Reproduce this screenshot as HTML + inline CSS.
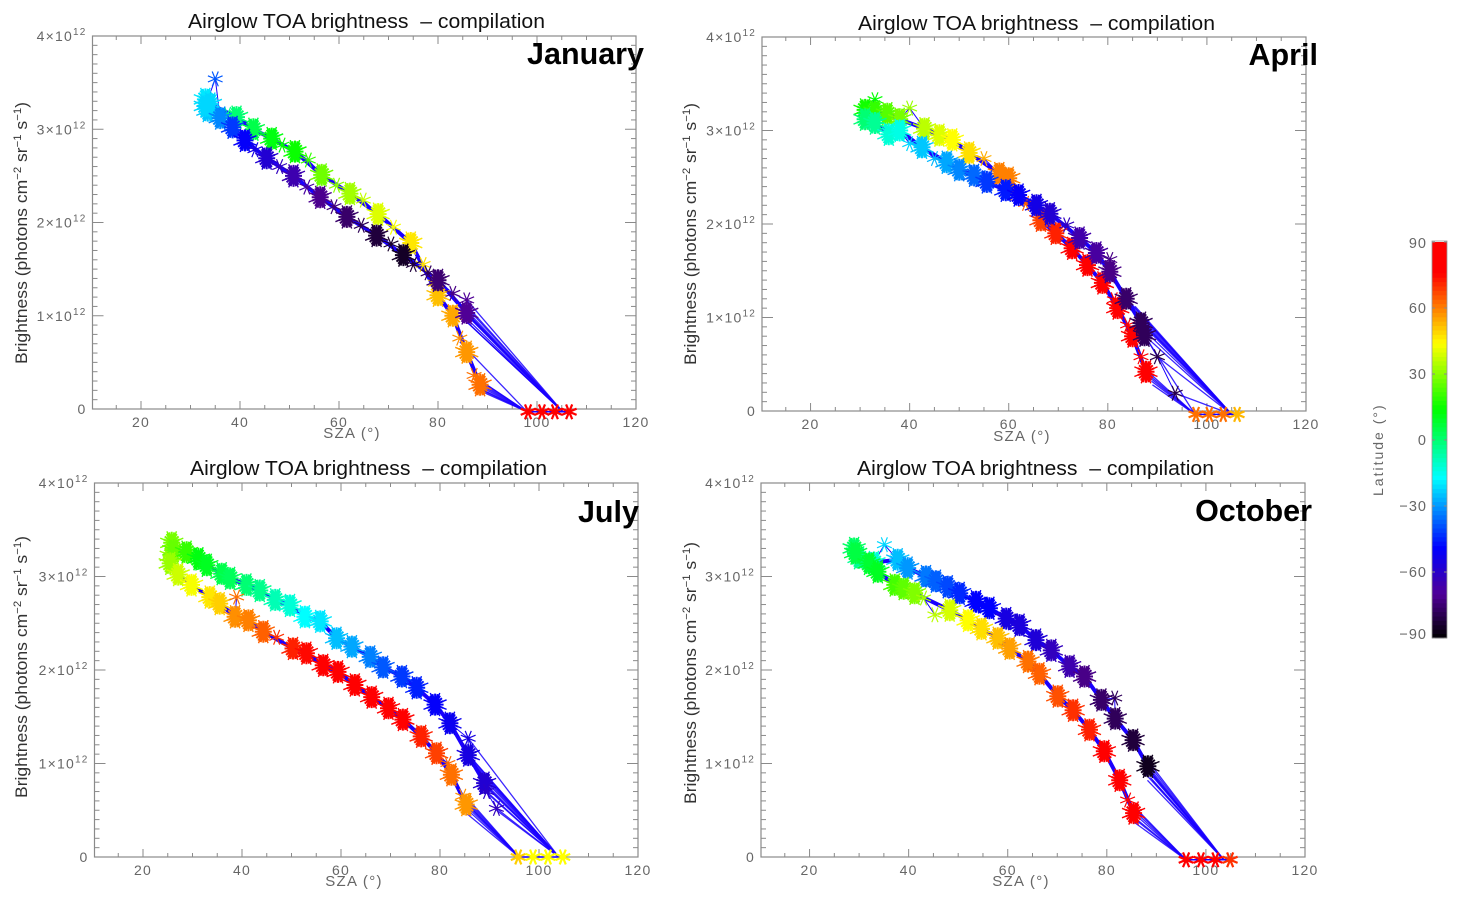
<!DOCTYPE html>
<html lang="en">
<head>
<meta charset="utf-8">
<title>Airglow TOA brightness compilation</title>
<style>
html,body{margin:0;padding:0;background:#fff;}
svg{display:block;font-family:"Liberation Sans",sans-serif;}
.title{font-size:20px;fill:#111;}
.month{font-size:30.5px;font-weight:bold;fill:#000;}
.ytitle{font-size:17px;fill:#333;}
.xtitle{font-size:15px;fill:#666;letter-spacing:1.3px;}
.tick{font-size:14px;fill:#666;letter-spacing:1.2px;}
.cbtick{font-size:14.5px;fill:#666;letter-spacing:1px;}
.cbtitle{font-size:14px;fill:#666;letter-spacing:2px;}
</style>
</head>
<body>
<svg id="chart" width="1461" height="903" viewBox="0 0 1461 903" xmlns="http://www.w3.org/2000/svg">
  <rect x="0" y="0" width="1461" height="903" fill="#fff"/>
  <g id="layer-january"></g>
  <g id="layer-april"></g>
  <g id="layer-july"></g>
  <g id="layer-october"></g>
  <g id="layer-colorbar"></g>

  <text class="title" x="188" y="28" textLength="357" lengthAdjust="spacingAndGlyphs">Airglow TOA brightness&#160;&#160;– compilation</text>
  <text class="title" x="858" y="30" textLength="357" lengthAdjust="spacingAndGlyphs">Airglow TOA brightness&#160;&#160;– compilation</text>
  <text class="title" x="190" y="475" textLength="357" lengthAdjust="spacingAndGlyphs">Airglow TOA brightness&#160;&#160;– compilation</text>
  <text class="title" x="857" y="475" textLength="357" lengthAdjust="spacingAndGlyphs">Airglow TOA brightness&#160;&#160;– compilation</text>

  <text class="month" x="644" y="64" text-anchor="end">January</text>
  <text class="month" x="1318" y="65" text-anchor="end">April</text>
  <text class="month" x="639" y="522" text-anchor="end">July</text>
  <text class="month" x="1312" y="521" text-anchor="end">October</text>

  <text class="ytitle" transform="translate(27,364) rotate(-90)" textLength="262" lengthAdjust="spacingAndGlyphs">Brightness (photons cm<tspan font-size="11" dy="-6">−2</tspan><tspan dy="6"> sr</tspan><tspan font-size="11" dy="-6">−1</tspan><tspan dy="6"> s</tspan><tspan font-size="11" dy="-6">−1</tspan><tspan dy="6">)</tspan></text>
  <text class="ytitle" transform="translate(696,365) rotate(-90)" textLength="262" lengthAdjust="spacingAndGlyphs">Brightness (photons cm<tspan font-size="11" dy="-6">−2</tspan><tspan dy="6"> sr</tspan><tspan font-size="11" dy="-6">−1</tspan><tspan dy="6"> s</tspan><tspan font-size="11" dy="-6">−1</tspan><tspan dy="6">)</tspan></text>
  <text class="ytitle" transform="translate(27,798) rotate(-90)" textLength="262" lengthAdjust="spacingAndGlyphs">Brightness (photons cm<tspan font-size="11" dy="-6">−2</tspan><tspan dy="6"> sr</tspan><tspan font-size="11" dy="-6">−1</tspan><tspan dy="6"> s</tspan><tspan font-size="11" dy="-6">−1</tspan><tspan dy="6">)</tspan></text>
  <text class="ytitle" transform="translate(696,804) rotate(-90)" textLength="262" lengthAdjust="spacingAndGlyphs">Brightness (photons cm<tspan font-size="11" dy="-6">−2</tspan><tspan dy="6"> sr</tspan><tspan font-size="11" dy="-6">−1</tspan><tspan dy="6"> s</tspan><tspan font-size="11" dy="-6">−1</tspan><tspan dy="6">)</tspan></text>

  <text class="xtitle" x="352" y="438" text-anchor="middle">SZA (°)</text>
  <text class="xtitle" x="1022" y="441" text-anchor="middle">SZA (°)</text>
  <text class="xtitle" x="354" y="886" text-anchor="middle">SZA (°)</text>
  <text class="xtitle" x="1021" y="886" text-anchor="middle">SZA (°)</text>

  <text class="cbtitle" transform="translate(1383,496) rotate(-90)">Latitude (°)</text>
</svg>

<script>
// ---- Axis content ----
const xMajorTicks = [20, 40, 60, 80, 100, 120];
const xMinorTicks = [15, 25, 30, 35, 45, 50, 55, 65, 70, 75, 85, 90, 95, 105, 110, 115];
const yMajorTicks = [0, 1, 2, 3, 4];
const yMinorTicks = [0.1,0.2,0.3,0.4,0.5,0.6,0.7,0.8,0.9,1.1,1.2,1.3,1.4,1.5,1.6,1.7,1.8,1.9,2.1,2.2,2.3,2.4,2.5,2.6,2.7,2.8,2.9,3.1,3.2,3.3,3.4,3.5,3.6,3.7,3.8,3.9];
const xTickLabels = ['20', '40', '60', '80', '100', '120'];
const yTickLabels = ['0', '1×10', '2×10', '3×10', '4×10'];
const yTickExponents = ['', '12', '12', '12', '12'];
const cbTicks = [-90, -60, -30, 0, 30, 60, 90];
const cbTickLabels = ['−90', '−60', '−30', '0', '30', '60', '90'];

// ---- Latitude colour table ----
const latStops = [-90, -70, -49, -17, 14, 44, 76, 90];
const latReds = [0, 80, 0, 0, 0, 255, 255, 255];
const latGreens = [0, 0, 0, 255, 255, 255, 0, 0];
const latBlues = [0, 150, 255, 255, 0, 0, 0, 0];

// ---- January ----
const janUpperSza = [33,33.5,34,36,37.5,39.3,42.7,46.4,48.5,51.1,53.8,56.5,59.5,62.2,64.9,67.9,71,74.5,77,79.5,80,83,84.4,85.8,87.3,88.5];
const janUpperBright = [3.32,3.2,3.27,3.15,3.16,3.13,3,2.9,2.83,2.76,2.67,2.51,2.4,2.31,2.24,2.09,1.95,1.78,1.55,1.35,1.22,1,0.76,0.61,0.36,0.26];
const janUpperLat = [-20,-24,-22,-10,-4,0,5,12,14,15,20,27,30,33,37,40,43,47,48,50,52,55,58,57,62,62];
const janUpperObs = [6,6,6,1,1,6,6,6,1,6,1,6,1,6,1,6,1,6,1,1,6,6,1,6,1,6];
const janLowerSza = [33,35,36,38.5,41,43,45.4,48,50.8,53.5,56.2,59,61.6,64.5,67.6,70.5,73,75,78,80,83,85.8,85.8];
const janLowerBright = [3.25,3.54,3.12,3.02,2.88,2.78,2.69,2.6,2.5,2.38,2.27,2.17,2.06,1.97,1.86,1.77,1.65,1.55,1.46,1.38,1.24,1.17,1.03];
const janLowerLat = [-22,-38,-32,-42,-50,-54,-58,-62,-65,-68,-71,-74,-76,-79,-82,-84,-85,-82,-78,-75,-72,-70,-70];
const janLowerObs = [6,1,6,6,6,1,6,1,6,1,6,1,6,1,6,1,6,1,1,6,1,1,6];
const janEndSza = [98.2,101,103.6,106.5];
const janEndBright = [-0.03,-0.03,-0.03,-0.03];
const janEndLat = [90,90,90,90];
const janFanSza = [85.8,85.8,86,85.5,86.3,85,85.5,86.5,84.5,87.8,88,88.3,88.6,88.9,89.1,88.2,88.7,84.4,86.1,86.7,87,85.2];
const janFanBright = [1.17,1.03,1,1.05,1.08,1.1,0.95,0.98,1.0,0.33,0.3,0.27,0.24,0.21,0.18,0.22,0.3,0.72,0.92,0.96,1.02,1.0];
const janFanEnd = [105.2,105.2,105.2,105.2,105.2,105.2,105.2,105.2,105.2,98,98,98,98,98,98,98,98,98,105.2,105.2,105.2,105.2];

// ---- April ----
const aprUpperSza = [31,33,33,35.5,38,40,43,46,48.6,52,55,58.1,60,61,63.4,66.5,69.5,72.8,75.9,78.9,81.3,82,84,85,86.7,87.7];
const aprUpperBright = [3.22,3.33,3.2,3.18,3.12,3.24,3.02,2.95,2.9,2.76,2.7,2.54,2.49,2.33,2.22,2.04,1.9,1.74,1.56,1.37,1.19,1.1,0.92,0.8,0.58,0.42];
const aprUpperLat = [16,14,20,24,28,32,36,40,44,48,54,60,60,62,64,68,72,76,78,82,84,86,86,88,88,88];
const aprUpperObs = [6,1,6,6,6,1,6,6,6,6,1,6,6,1,1,6,6,6,6,6,1,6,1,6,1,6];
const aprLowerSza = [31,33,35.8,38,40,42.5,45,47.5,50,53,55.6,59.4,62,65.6,68.3,71.7,74.3,77.7,80.4,80.4,83.7,86.7,87.4,90,93.6];
const aprLowerBright = [3.12,3.08,2.96,3,2.86,2.82,2.7,2.66,2.58,2.52,2.45,2.36,2.31,2.2,2.11,1.99,1.85,1.69,1.62,1.49,1.2,0.94,0.81,0.58,0.19];
const aprLowerLat = [0,-4,-12,-14,-22,-24,-26,-28,-32,-36,-42,-46,-50,-54,-58,-62,-66,-68,-72,-72,-76,-78,-78,-80,-80];
const aprLowerObs = [6,6,6,6,1,6,1,6,6,6,6,6,6,6,6,1,6,6,1,6,6,6,6,1,1];
const aprEndSza = [97.8,100.5,103.3,106.1];
const aprEndBright = [-0.036,-0.036,-0.036,-0.036];
const aprEndLat = [62,62,62,53];
const aprFanSza = [83.7,84.2,85,86,86.7,87,87.4,87.8,88,85.5,86.5,90,93.6,87.7,88,88.4,88.8,89,87.4];
const aprFanBright = [1.2,1.18,1.1,1,0.98,0.94,0.9,0.84,0.78,1.12,1.04,0.58,0.19,0.44,0.4,0.36,0.32,0.28,0.81];
const aprFanEnd = [105,105,105,105,105,105,105,105,105,105,105,105,105,97.6,97.6,97.6,97.6,97.6,97.6];

// ---- July ----
const julUpperSza = [25.8,25.7,26.2,28.8,31.2,32.9,35.9,37.6,40.9,43.6,46.7,49.7,52.7,55.8,59.1,62.2,65.9,68.5,72.3,75.3,79,82,85.7,85.7,89,89.4,91.4];
const julUpperBright = [3.36,3.22,3.28,3.26,3.19,3.12,3.03,2.98,2.91,2.85,2.75,2.69,2.57,2.52,2.34,2.25,2.14,2.03,1.93,1.81,1.63,1.43,1.27,1.09,0.79,0.7,0.52];
const julUpperLat = [28,32,26,20,12,10,5,3,0,-3,-8,-12,-17,-20,-25,-28,-33,-38,-42,-45,-50,-52,-55,-55,-58,-60,-62];
const julUpperObs = [6,6,6,6,6,6,6,6,6,6,6,6,6,6,6,6,6,6,6,6,6,6,1,6,6,1,1];
const julLowerSza = [25.5,27.1,29.8,33.5,35.5,38.9,38.6,41.3,44.3,47,50.3,53,56.4,59.4,62.8,66.2,69.6,72.5,76.2,79.3,81.6,82.3,84.6,85.3];
const julLowerBright = [3.14,3.02,2.91,2.78,2.71,2.78,2.57,2.53,2.41,2.35,2.23,2.18,2.05,1.98,1.84,1.71,1.59,1.47,1.29,1.11,1,0.88,0.65,0.56];
const julLowerLat = [32,38,43,47,50,62,58,60,64,70,72,75,78,82,85,88,88,80,72,68,63,62,58,57];
const julLowerObs = [6,6,6,6,6,1,6,6,6,1,6,6,6,6,6,6,6,6,6,6,1,6,1,6];
const julEndSza = [95.8,98.8,101.8,104.8];
const julEndBright = [0,0,0,0];
const julEndLat = [50,44,44,44];
const julFanSza = [85.7,85.7,86.5,87.5,88,88.5,89,89.4,90,89.5,91.4,91.4,85,85.3,85.6,85.9,86.2,84.8,85.5,86.9,88.3,84.6];
const julFanBright = [1.27,1.09,1.05,0.95,0.9,0.85,0.79,0.7,0.66,0.75,0.52,0.5,0.66,0.62,0.58,0.54,0.5,0.6,0.46,1.0,0.8,0.55];
const julFanEnd = [104,104,104,104,104,104,104,104,104,104,104,104,96,96,96,96,96,96,96,104,104,96];

// ---- October ----
const octUpperSza = [29,30,33,35.1,37.8,39.8,43.5,45.5,47.9,50.3,53.6,56.3,59.7,62.4,65.7,68.8,72.5,75.5,78.9,81.6,81.7,85.3,88.3];
const octUpperBright = [3.3,3.2,3.15,3.34,3.18,3.09,3,2.95,2.89,2.82,2.73,2.66,2.55,2.48,2.32,2.21,2.04,1.93,1.68,1.7,1.48,1.25,0.97];
const octUpperLat = [2,-4,-12,-22,-25,-30,-34,-37,-40,-44,-49,-49,-55,-56,-57,-62,-65,-72,-76,-78,-78,-82,-86];
const octUpperObs = [6,6,6,1,6,6,6,6,6,6,6,6,6,6,6,6,6,6,6,1,6,6,6];
const octLowerSza = [29.3,32,33.8,37.2,39,41.2,43,45.3,48.3,52,54.7,58,60.4,64.1,66.4,70.1,73.2,76.5,79.5,82.6,84.2,85.4];
const octLowerBright = [3.25,3.14,3.05,2.91,2.87,2.82,2.77,2.59,2.64,2.53,2.44,2.34,2.23,2.09,1.96,1.72,1.57,1.36,1.13,0.82,0.61,0.47];
const octLowerLat = [6,8,10,22,25,29,33,36,39,44,48,52,56,62,64,66,70,72,76,80,84,84];
const octLowerObs = [6,6,6,6,6,6,1,1,6,6,6,6,6,6,6,6,6,6,6,6,1,6];
const octEndSza = [96,99,101.9,104.9];
const octEndBright = [-0.03,-0.03,-0.03,-0.03];
const octEndLat = [88,88,86,70];
const octFanSza = [88,88.3,88.6,89,88.8,88.2,87.6,87.9,89.2,84.2,85,85.4,85.8,86.1,85.3,84.8,87.2,88.6];
const octFanBright = [1.05,1,0.95,0.9,0.85,0.82,0.9,0.97,0.82,0.61,0.55,0.5,0.45,0.4,0.38,0.44,1.0,0.9];
const octFanEnd = [103.6,103.6,103.6,103.6,103.6,103.6,103.6,103.6,103.6,96,96,96,96,96,96,96,103.6,103.6];

// ---- Panel frames ----
const panels = [
  {layer:'layer-january',left:92.5,right:636,top:36,bottom:409,branches:[[janUpperSza,janUpperBright,janUpperLat,janUpperObs],[janLowerSza,janLowerBright,janLowerLat,janLowerObs]],fan:[janFanSza,janFanBright,janFanEnd],end:[janEndSza,janEndBright,janEndLat]},
  {layer:'layer-april',left:762,right:1306,top:37,bottom:411,branches:[[aprUpperSza,aprUpperBright,aprUpperLat,aprUpperObs],[aprLowerSza,aprLowerBright,aprLowerLat,aprLowerObs]],fan:[aprFanSza,aprFanBright,aprFanEnd],end:[aprEndSza,aprEndBright,aprEndLat]},
  {layer:'layer-july',left:94.5,right:638,top:483,bottom:857,branches:[[julUpperSza,julUpperBright,julUpperLat,julUpperObs],[julLowerSza,julLowerBright,julLowerLat,julLowerObs]],fan:[julFanSza,julFanBright,julFanEnd],end:[julEndSza,julEndBright,julEndLat]},
  {layer:'layer-october',left:761,right:1305,top:483,bottom:857,branches:[[octUpperSza,octUpperBright,octUpperLat,octUpperObs],[octLowerSza,octLowerBright,octLowerLat,octLowerObs]],fan:[octFanSza,octFanBright,octFanEnd],end:[octEndSza,octEndBright,octEndLat]}
];

const NS = 'http://www.w3.org/2000/svg';
const AXIS_COLOR = '#8a8a8a';
const LINE_COLOR = '#1a00ff';
const X_MIN = 10.2, X_MAX = 120, Y_MIN = 0, Y_MAX = 4;

function latColor(lat) {
  let i = 0;
  while (i < latStops.length - 2 && lat > latStops[i + 1]) i++;
  const t = Math.max(0, Math.min(1, (lat - latStops[i]) / (latStops[i + 1] - latStops[i])));
  const r = Math.round(latReds[i] + t * (latReds[i + 1] - latReds[i]));
  const g = Math.round(latGreens[i] + t * (latGreens[i + 1] - latGreens[i]));
  const b = Math.round(latBlues[i] + t * (latBlues[i + 1] - latBlues[i]));
  return 'rgb(' + r + ',' + g + ',' + b + ')';
}

function xScale(p, v) { return p.right - (X_MAX - v) * (p.right - p.left) / (X_MAX - X_MIN); }
function yScale(p, v) { return p.bottom - (v - Y_MIN) * (p.bottom - p.top) / (Y_MAX - Y_MIN); }

function drawTick(g, x1, y1, x2, y2) {
  const el = document.createElementNS(NS, 'line');
  
  
  el.setAttribute('x1', x1);
  el.setAttribute('y1', y1);
  el.setAttribute('x2', x2);
  el.setAttribute('y2', y2);
  el.setAttribute('stroke', AXIS_COLOR);
  el.setAttribute('stroke-width', '1');
  g.appendChild(el);
}

function drawAxes(p, g) {
  const box = document.createElementNS(NS, 'rect');
  
  
  box.setAttribute('x', p.left);
  box.setAttribute('y', p.top);
  box.setAttribute('width', p.right - p.left);
  box.setAttribute('height', p.bottom - p.top);
  box.setAttribute('fill', 'none');
  box.setAttribute('stroke', AXIS_COLOR);
  box.setAttribute('stroke-width', '1.2');
  g.appendChild(box);

  xMajorTicks.forEach(function (v, i) {
    const x = xScale(p, v);
    drawTick(g, x, p.bottom, x, p.bottom - 8);
    drawTick(g, x, p.top, x, p.top + 8);
    const t = document.createElementNS(NS, 'text');
    
    
    t.setAttribute('class', 'tick');
    t.setAttribute('x', x);
    t.setAttribute('y', p.bottom + 18);
    t.setAttribute('text-anchor', 'middle');
    t.textContent = xTickLabels[i];
    g.appendChild(t);
  });
  xMinorTicks.forEach(function (v) {
    const x = xScale(p, v);
    drawTick(g, x, p.bottom, x, p.bottom - 4);
    drawTick(g, x, p.top, x, p.top + 4);
  });
  yMajorTicks.forEach(function (v, i) {
    const y = yScale(p, v);
    drawTick(g, p.left, y, p.left + 11, y);
    drawTick(g, p.right, y, p.right - 11, y);
    const t = document.createElementNS(NS, 'text');
    
    
    t.setAttribute('class', 'tick');
    t.setAttribute('x', p.left - 6);
    t.setAttribute('y', y + 5);
    t.setAttribute('text-anchor', 'end');
    t.textContent = yTickLabels[i];
    if (yTickExponents[i]) {
      const s = document.createElementNS(NS, 'tspan');
      s.setAttribute('font-size', '10');
      s.setAttribute('dy', '-6');
      s.textContent = yTickExponents[i];
      t.appendChild(s);
    }
    g.appendChild(t);
  });
  yMinorTicks.forEach(function (v) {
    const y = yScale(p, v);
    drawTick(g, p.left, y, p.left + 5, y);
    drawTick(g, p.right, y, p.right - 5, y);
  });
}

function starPath(cx, cy, rays, rx, ry, phase) {
  let d = '';
  for (let i = 0; i < rays; i++) {
    const a = Math.PI * i / rays + phase;
    const dx = Math.cos(a) * rx;
    const dy = Math.sin(a) * ry;
    d += 'M' + (cx - dx).toFixed(1) + ' ' + (cy - dy).toFixed(1) + 'L' + (cx + dx).toFixed(1) + ' ' + (cy + dy).toFixed(1);
  }
  return d;
}

function drawMarker(g, p, sza, bright, lat, obs) {
  const cx = xScale(p, sza);
  const cy = yScale(p, bright);
  const el = document.createElementNS(NS, 'path');
  
  
  el.setAttribute('fill', 'none');
  el.setAttribute('stroke', latColor(lat));
  if (obs > 2) {
    // overlapping asterisks: a tall core and long thin spikes
    el.setAttribute('d', starPath(cx, cy, 4, 12.5, 12.5, Math.PI / 8));
    el.setAttribute('stroke-width', '1.4');
    g.appendChild(el);
    const core = document.createElementNS(NS, 'path');
    
    
    core.setAttribute('d', starPath(cx, cy, 10, 8.5, 11, 0));
    core.setAttribute('fill', 'none');
    core.setAttribute('stroke', latColor(lat));
    core.setAttribute('stroke-width', '2');
    g.appendChild(core);
  } else {
    el.setAttribute('d', starPath(cx, cy, 4, 8, 8, Math.PI / 8));
    el.setAttribute('stroke-width', obs === 2 ? '2.2' : '1.2');
    g.appendChild(el);
  }
}

function drawBranchLine(g, p, szaArr, brightArr, obsArr) {
  const thin = document.createElementNS(NS, 'polyline');
  
  
  thin.setAttribute('points', szaArr.map(function (v, i) {
    return xScale(p, v).toFixed(1) + ',' + yScale(p, brightArr[i]).toFixed(1);
  }).join(' '));
  thin.setAttribute('fill', 'none');
  thin.setAttribute('stroke', LINE_COLOR);
  thin.setAttribute('stroke-width', '1');
  g.appendChild(thin);

  const pts = [];
  szaArr.forEach(function (v, i) {
    if (obsArr[i] > 2) pts.push(xScale(p, v).toFixed(1) + ',' + yScale(p, brightArr[i]).toFixed(1));
  });
  const thick = document.createElementNS(NS, 'polyline');
  
  
  thick.setAttribute('points', pts.join(' '));
  thick.setAttribute('fill', 'none');
  thick.setAttribute('stroke', LINE_COLOR);
  thick.setAttribute('stroke-width', '4');
  g.appendChild(thick);
}

function drawEndLine(g, p, szaArr, brightArr) {
  const el = document.createElementNS(NS, 'polyline');
  
  
  el.setAttribute('points', szaArr.map(function (v, i) {
    return xScale(p, v).toFixed(1) + ',' + yScale(p, brightArr[i]).toFixed(1);
  }).join(' '));
  el.setAttribute('fill', 'none');
  el.setAttribute('stroke', LINE_COLOR);
  el.setAttribute('stroke-width', '1.5');
  g.appendChild(el);
}

function drawFan(g, p, fan, endBright) {
  fan[0].forEach(function (v, i) {
    const el = document.createElementNS(NS, 'line');
    
    
    el.setAttribute('x1', xScale(p, v));
    el.setAttribute('y1', yScale(p, fan[1][i]));
    el.setAttribute('x2', xScale(p, fan[2][i]));
    el.setAttribute('y2', yScale(p, endBright));
    el.setAttribute('stroke', LINE_COLOR);
    el.setAttribute('stroke-width', '1.3');
    el.setAttribute('stroke-opacity', '0.85');
    g.appendChild(el);
  });
}

function drawPanel(p) {
  const g = document.getElementById(p.layer);
  drawAxes(p, g);
  p.branches.forEach(function (b) { drawBranchLine(g, p, b[0], b[1], b[3]); });
  drawFan(g, p, p.fan, p.end[1][0]);
  drawEndLine(g, p, p.end[0], p.end[1]);
  p.branches.forEach(function (b) {
    b[0].forEach(function (v, i) { drawMarker(g, p, v, b[1][i], b[2][i], b[3][i]); });
  });
  p.end[0].forEach(function (v, i) { drawMarker(g, p, v, p.end[1][i], p.end[2][i], 2); });
}

function drawColorbar() {
  const g = document.getElementById('layer-colorbar');
  const cbTop = 242, cbBottom = 638, cbLeft = 1432, cbRight = 1447;
  const cbY = function (lat) { return cbBottom - (lat + 90) * (cbBottom - cbTop) / 180; };
  for (let lat = -90; lat < 90; lat += 2) {
    const r = document.createElementNS(NS, 'rect');
    
    
    r.setAttribute('x', cbLeft);
    r.setAttribute('width', cbRight - cbLeft);
    r.setAttribute('y', cbY(lat + 2));
    r.setAttribute('height', cbY(lat) - cbY(lat + 2) + 0.5);
    r.setAttribute('fill', latColor(lat + 1));
    g.appendChild(r);
  }
  const frame = document.createElementNS(NS, 'rect');
  
  
  frame.setAttribute('x', cbLeft);
  frame.setAttribute('y', cbTop - 1);
  frame.setAttribute('width', cbRight - cbLeft);
  frame.setAttribute('height', cbBottom - cbTop + 1);
  frame.setAttribute('fill', 'none');
  frame.setAttribute('stroke', '#999');
  frame.setAttribute('stroke-width', '0.8');
  g.appendChild(frame);
  cbTicks.forEach(function (v, i) {
    const y = cbY(v);
    drawTick(g, cbLeft, y, cbLeft + 3, y);
    drawTick(g, cbRight, y, cbRight - 3, y);
    const t = document.createElementNS(NS, 'text');
    
    
    t.setAttribute('class', 'cbtick');
    t.setAttribute('x', 1427);
    t.setAttribute('y', v === 90 ? y + 6 : (v === -90 ? y + 1 : y + 5));
    t.setAttribute('text-anchor', 'end');
    t.textContent = cbTickLabels[i];
    g.appendChild(t);
  });
}

panels.forEach(drawPanel);
drawColorbar();
</script>
</body>
</html>
